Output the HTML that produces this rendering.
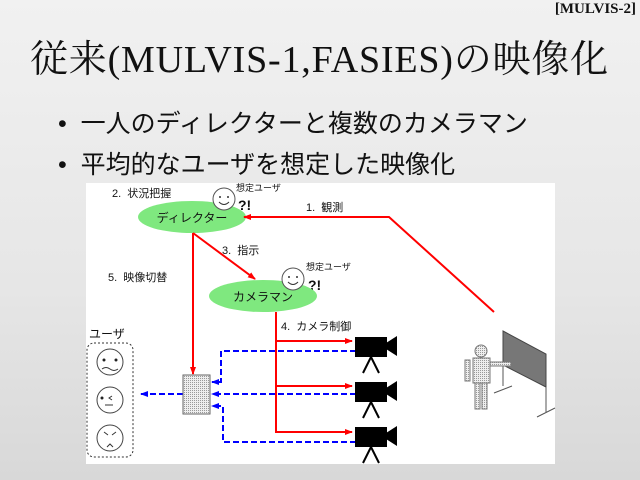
<!DOCTYPE html>
<html><head><meta charset="utf-8"><style>
body{margin:0;width:640px;height:480px;overflow:hidden;background:linear-gradient(180deg,#f1f1f1,#e6e6e6 60%,#d8d8d8);position:relative;font-family:"Liberation Sans","Noto Sans CJK JP",sans-serif}
.t{position:absolute;white-space:nowrap}
</style></head><body>
<div class="t" style="right:4px;top:1px;font:bold 15px 'Liberation Serif','Noto Serif CJK SC',serif;color:#111">[MULVIS-2]</div>
<div class="t" style="left:30px;top:28px;font:38px 'Liberation Serif','Noto Serif CJK SC',serif;color:#111;letter-spacing:0.8px">従来(MULVIS-1,FASIES)の映像化</div>
<div class="t" style="left:58px;top:104px;font-size:25px;color:#111">•&nbsp; 一人のディレクターと複数のカメラマン</div>
<div class="t" style="left:58px;top:145px;font-size:25px;color:#111">•&nbsp; 平均的なユーザを想定した映像化</div>
<svg style="position:absolute;left:0;top:0" width="640" height="480" font-family="Liberation Sans,Noto Sans CJK JP,sans-serif">
<defs>
<marker id="r" markerWidth="8" markerHeight="8" refX="7" refY="4" orient="auto" markerUnits="userSpaceOnUse"><path d="M0,1L8,4L0,7z" fill="#f00"/></marker>
<marker id="b" markerWidth="8" markerHeight="8" refX="7" refY="4" orient="auto" markerUnits="userSpaceOnUse"><path d="M0,1L8,4L0,7z" fill="#00f"/></marker>
<pattern id="d" width="2" height="2" patternUnits="userSpaceOnUse"><rect width="2" height="2" fill="#eee"/><rect width="1" height="1" fill="#999"/></pattern>
</defs>
<rect x="86" y="183" width="469" height="281" fill="#fff"/>
<g fill="#111" font-size="11">
<text x="112" y="197">2.&nbsp; 状況把握</text>
<text x="306" y="211">1.&nbsp; 観測</text>
<text x="222" y="254">3.&nbsp; 指示</text>
<text x="108" y="281">5.&nbsp; 映像切替</text>
<text x="281" y="330">4.&nbsp; カメラ制御</text>
<text x="89" y="338" font-size="12">ユーザ</text>
<text x="236" y="191" font-size="9">想定ユーザ</text>
<text x="306" y="270" font-size="9">想定ユーザ</text>
<text x="238" y="210" font-size="14" font-weight="bold">?!</text>
<text x="308" y="290" font-size="14" font-weight="bold">?!</text>
</g>
<ellipse cx="192" cy="217" rx="54" ry="16" fill="#7fe87f"/>
<ellipse cx="263" cy="296" rx="54" ry="16" fill="#7fe87f"/>
<text x="192" y="222" font-size="12" text-anchor="middle" fill="#111">ディレクター</text>
<text x="263" y="301" font-size="12" text-anchor="middle" fill="#111">カメラマン</text>
<g fill="#fff" stroke="#555" stroke-width="1">
<circle cx="224" cy="199" r="11"/><circle cx="293" cy="279" r="11"/></g>
<g fill="#333"><circle cx="220" cy="197" r="1"/><circle cx="228" cy="197" r="1"/><circle cx="289" cy="277" r="1"/><circle cx="297" cy="277" r="1"/></g>
<path d="M219,202q5,5 10,0M288,282q5,5 10,0" fill="none" stroke="#333"/>
<g stroke="#f00" stroke-width="2" fill="none">
<polyline points="494,312 389,217 244,217" marker-end="url(#r)"/>
<line x1="193" y1="233" x2="193" y2="374" marker-end="url(#r)"/>
<line x1="193" y1="233" x2="255" y2="279" marker-end="url(#r)"/>
<polyline points="276,312 276,432 352,432" marker-end="url(#r)"/>
<line x1="276" y1="341" x2="352" y2="341" marker-end="url(#r)"/>
<line x1="276" y1="386" x2="352" y2="386" marker-end="url(#r)"/>
</g>
<g stroke="#00f" stroke-width="2" fill="none" stroke-dasharray="6,3">
<polyline points="356,351 221,351 221,382 212,382" marker-end="url(#b)"/>
<line x1="356" y1="394" x2="212" y2="394" marker-end="url(#b)"/>
<polyline points="356,442 223,442 223,406 212,406" marker-end="url(#b)"/>
<line x1="183" y1="394" x2="141" y2="394" marker-end="url(#b)"/>
</g>
<rect x="183" y="375" width="27" height="39" fill="url(#d)" stroke="#666"/>
<g fill="#000">
<rect x="355" y="337" width="32" height="20"/><path d="M386,343L397,336V356L386,349z"/>
<rect x="355" y="382" width="32" height="20"/><path d="M386,388L397,381V401L386,394z"/>
<rect x="355" y="427" width="32" height="20"/><path d="M386,433L397,426V446L386,439z"/>
</g>
<g stroke="#000" stroke-width="2"><path d="M371,357L363,373M371,357L379,373M371,402L363,418M371,402L379,418M371,447L363,463M371,447L379,463"/></g>
<rect x="87" y="343" width="46" height="114" rx="7" fill="none" stroke="#333" stroke-dasharray="2,2"/>
<g fill="#fff" stroke="#444"><circle cx="110" cy="362" r="13"/><circle cx="110" cy="400" r="13"/><circle cx="110" cy="438" r="13"/></g>
<g fill="#222"><circle cx="104" cy="360" r="1.5"/><circle cx="116" cy="360" r="1.5"/><circle cx="102" cy="398" r="1.5"/></g>
<path d="M102,369q4,-3 8,0t8,0M112,396l-3,2 3,2M105,405h8M104,432l4,3M116,432l-4,3M107,447l3,-3 3,3" fill="none" stroke="#333"/>
<path d="M503,331L546,354V387L503,365z" fill="#777" stroke="#444"/>
<path d="M503,365V386M494,393L512,386M546,387V412M537,417L555,408" stroke="#555" fill="none"/>
<g fill="url(#d)" stroke="#777"><circle cx="481" cy="351" r="6"/><rect x="473" y="358" width="17" height="25"/><rect x="490" y="362" width="21" height="4"/><rect x="465" y="360" width="5" height="21"/><rect x="475" y="383" width="5" height="26"/><rect x="482" y="383" width="5" height="26"/></g>
</svg>
</body></html>
